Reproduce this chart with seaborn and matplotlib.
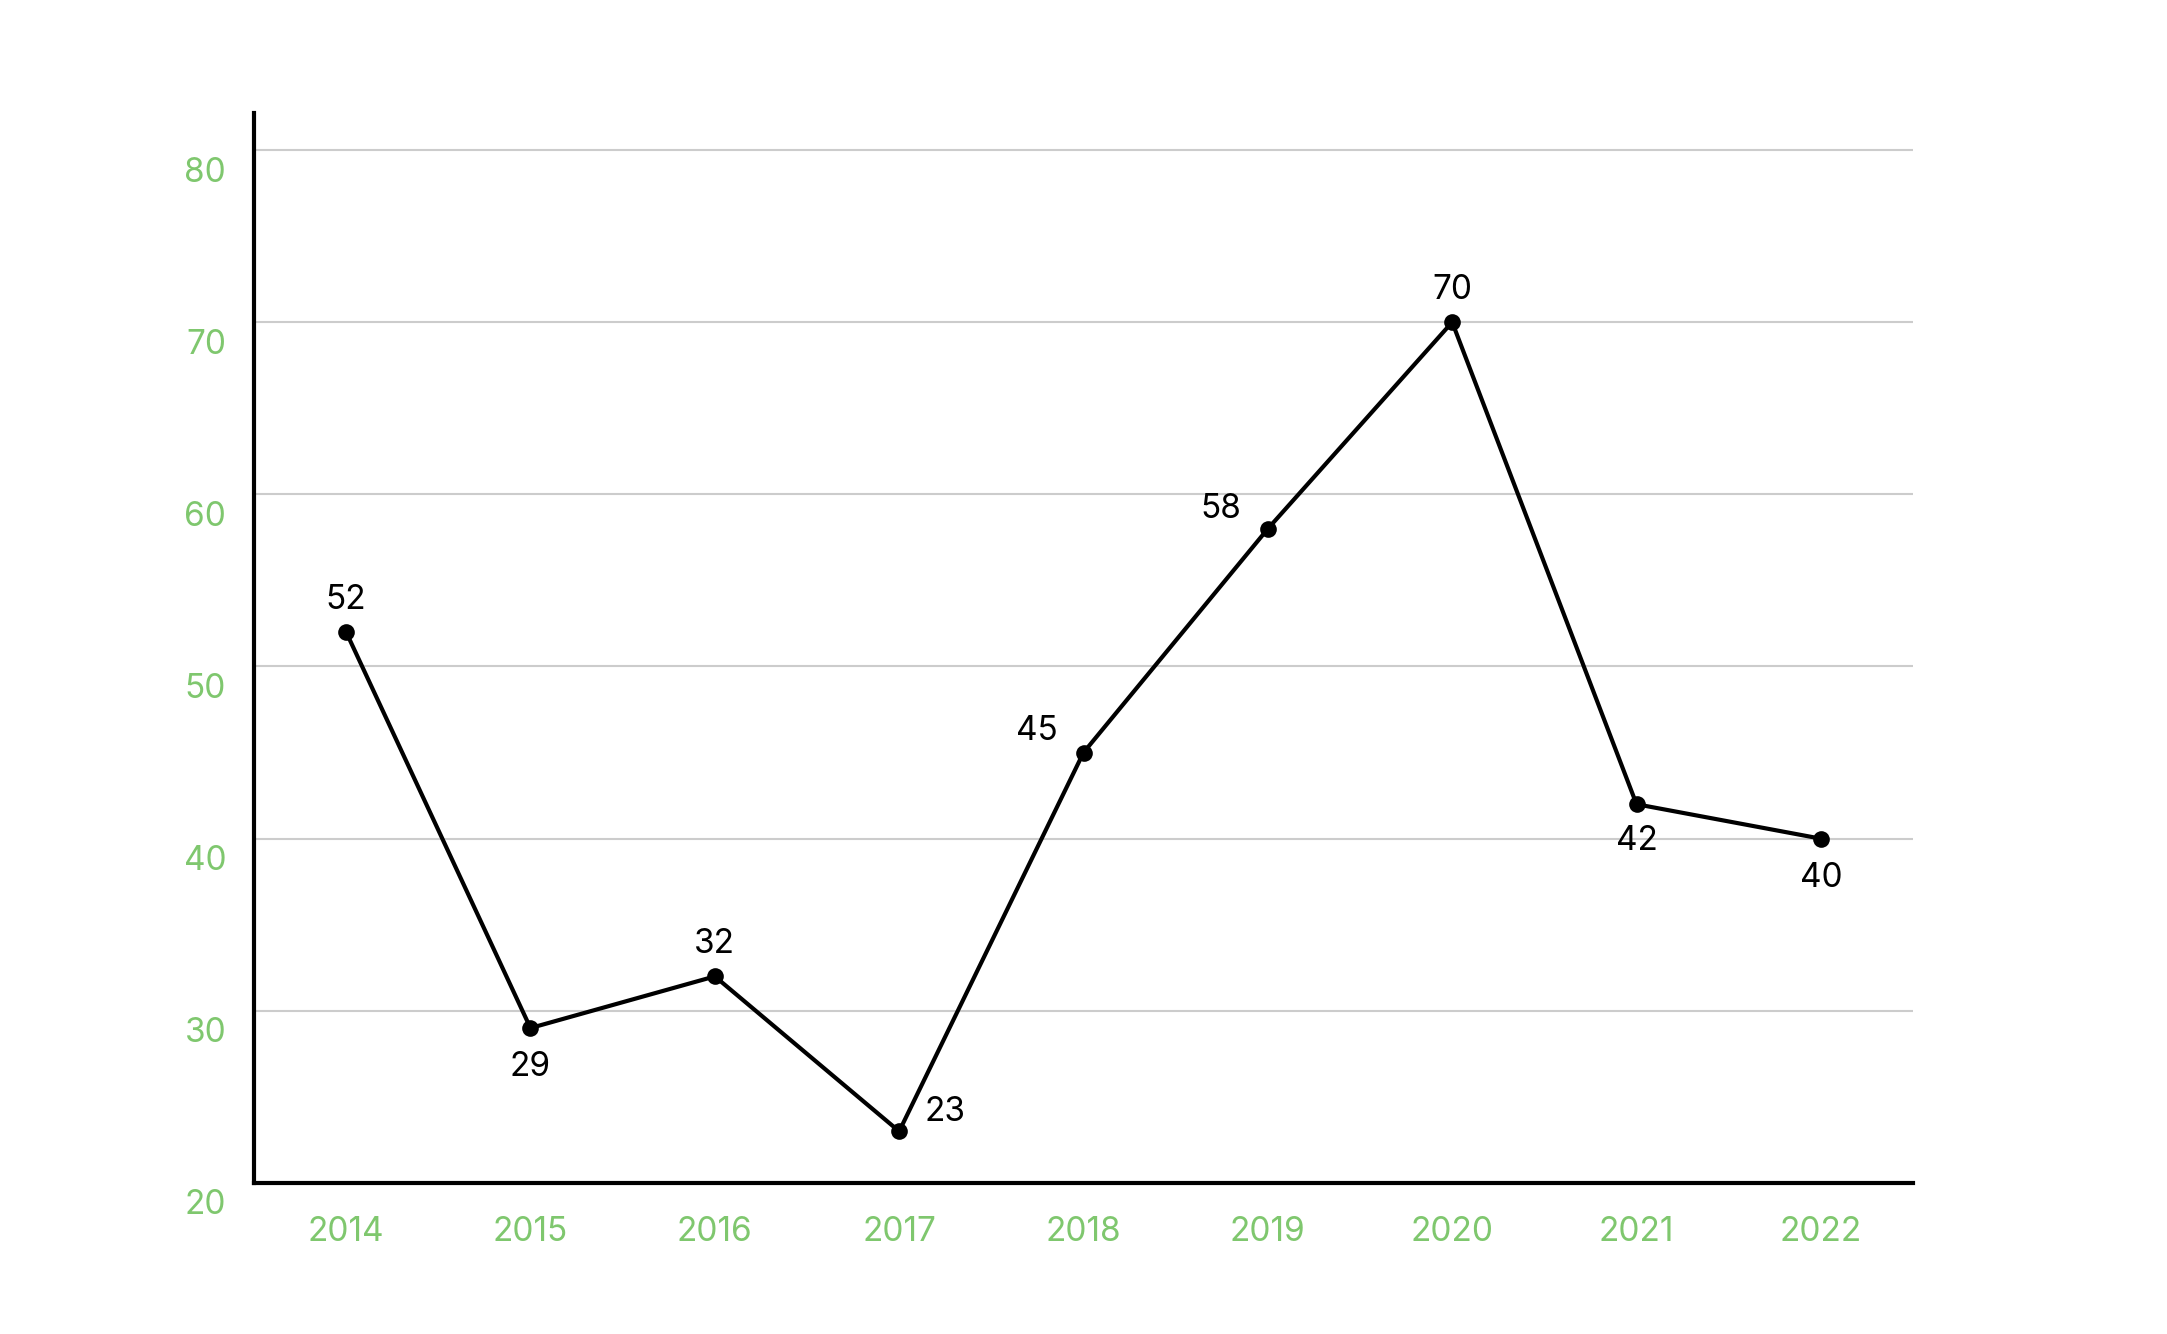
import pandas as pd
import matplotlib.pyplot as plt
import matplotlib.transforms as mtransforms
import seaborn as sns

sns.set_style("white")
plt.rcParams["font.family"] = ["Inter", "DejaVu Sans"]

# dados
years = [2014, 2015, 2016, 2017, 2018, 2019, 2020, 2021, 2022]
values = [52, 29, 32, 23, 45, 58, 70, 42, 40]
yticks = [20, 30, 40, 50, 60, 70, 80]
# posicao do rotulo de cada ponto (dx, dy em pixels)
label_offsets = [(0, 32), (0, -39), (0, 32), (46, 19), (-47, 22),
                 (-47, 20), (0, 32), (0, -37), (0, -39)]

df = pd.DataFrame({"ano": years, "valor": values})

green = "#7fc76e"

fig = plt.figure(figsize=(21.67, 13.34), dpi=100)
ax = fig.add_axes([0.1172, 0.1132, 0.7656, 0.8021])

ax.set_ylim(20, 82.15)
ax.set_xlim(2013.5, 2022.5)
ax.set_yticks(yticks)
ax.set_xticks(years)
ax.yaxis.grid(True, color="#cccccc", linewidth=1.5)
ax.set_axisbelow(True)

sns.lineplot(data=df, x="ano", y="valor", ax=ax, color="black",
             linewidth=3, marker="o", markersize=12, markeredgewidth=0)

for x, y, (dx, dy) in zip(years, values, label_offsets):
    ax.annotate(str(y), (x, y), xytext=(dx, dy), textcoords="offset pixels",
                ha="center", va="center", fontsize=24, color="black")

for s in ["top", "right"]:
    ax.spines[s].set_visible(False)
for s in ["left", "bottom"]:
    ax.spines[s].set_linewidth(3)
    ax.spines[s].set_color("black")

ax.tick_params(axis="both", length=0, labelsize=24, labelcolor=green)
ax.tick_params(axis="x", pad=24)
ax.tick_params(axis="y", pad=20)

shift = mtransforms.ScaledTranslation(0, -19 / 100, fig.dpi_scale_trans)
for lab in ax.get_yticklabels():
    lab.set_transform(lab.get_transform() + shift)

ax.set_xlabel("")
ax.set_ylabel("")

fig.savefig("out.png", dpi=100)
